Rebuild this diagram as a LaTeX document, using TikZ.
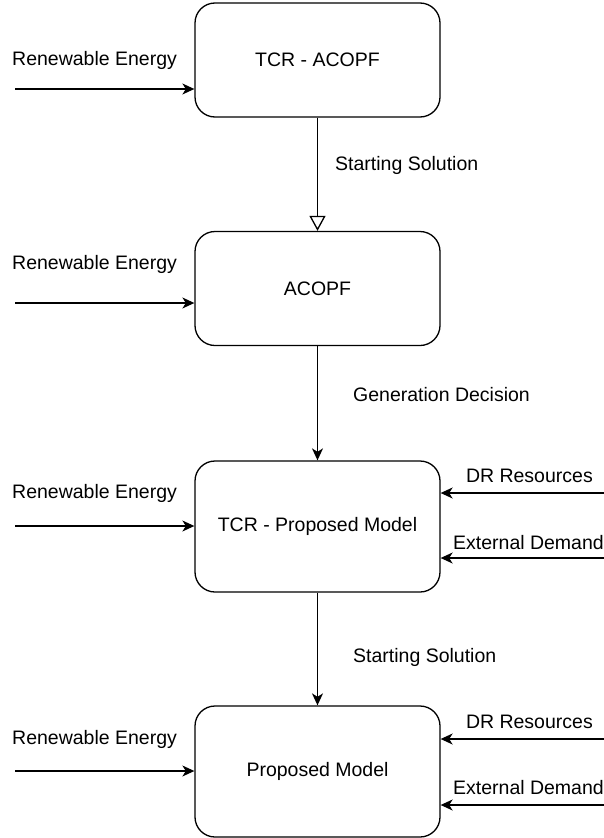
\documentclass[tikz,border=0pt]{standalone}
\usepackage{fontspec}
\setmainfont{Liberation Sans}
\usetikzlibrary{arrows.meta,positioning}
\tikzset{>={Stealth[length=12pt,width=11pt,inset=3.5pt]}}
\tikzset{
  model/.style={draw, line width=1.3pt, rounded corners=20pt, minimum width=245pt, align=center},
  flow/.style={->, line width=1.3pt},
  seed/.style={-{Triangle[open,length=15pt,width=16pt]}, line width=1.3pt},
  lbl/.style={inner sep=0pt, font=\fontsize{19.5}{23}\selectfont}
}

\begin{document}
\begin{tikzpicture}[x=1pt,y=-1pt, font=\fontsize{19.5}{23}\selectfont]
\useasboundingbox (0,0) rectangle (604,838);
% models
\node[model, minimum height=114pt] (tcracopf) at (317.5,60) {TCR - ACOPF};
\node[model, minimum height=114pt] (acopf) at (317.5,288.5) {ACOPF};
\node[model, minimum height=131pt] (tcrprop) at (317.5,526.5) {TCR - Proposed Model};
\node[model, minimum height=131pt] (prop) at (317.5,771.5) {Proposed Model};
% renewable inputs
\coordinate (re1) at (15,89);
\coordinate (re2) at (15,303);
\coordinate (re3) at (15,526);
\coordinate (re4) at (15,771);
\node[lbl, anchor=west] (rel1) at (12,60) {Renewable Energy};
\node[lbl, anchor=west] (rel2) at (12,264) {Renewable Energy};
\node[lbl, anchor=west] (rel3) at (12,493) {Renewable Energy};
\node[lbl, anchor=west] (rel4) at (12,739) {Renewable Energy};
\draw[flow] (re1) -- (re1 -| tcracopf.west);
\draw[flow] (re2) -- (re2 -| acopf.west);
\draw[flow] (re3) -- (re3 -| tcrprop.west);
\draw[flow] (re4) -- (re4 -| prop.west);
% DR and demand inputs
\coordinate (dr3) at (604,493);
\coordinate (ed3) at (604,558);
\coordinate (dr4) at (604,739);
\coordinate (ed4) at (604,805);
\node[lbl, anchor=east] (drl3) at (593,476) {DR Resources};
\node[lbl, anchor=east] (edl3) at (604,543) {External Demand};
\node[lbl, anchor=east] (drl4) at (593,722) {DR Resources};
\node[lbl, anchor=east] (edl4) at (604,788) {External Demand};
\draw[flow] (dr3) -- (dr3 -| tcrprop.east);
\draw[flow] (ed3) -- (ed3 -| tcrprop.east);
\draw[flow] (dr4) -- (dr4 -| prop.east);
\draw[flow] (ed4) -- (ed4 -| prop.east);
% chain
\draw[seed] (tcracopf) -- (acopf);
\draw[flow] (acopf) -- (tcrprop);
\draw[flow] (tcrprop) -- (prop);
\node[lbl, anchor=west] (ss1) at (335,165) {Starting Solution};
\node[lbl, anchor=west] (gd) at (353,395) {Generation Decision};
\node[lbl, anchor=west] (ss2) at (353,657) {Starting Solution};
\end{tikzpicture}
\end{document}
